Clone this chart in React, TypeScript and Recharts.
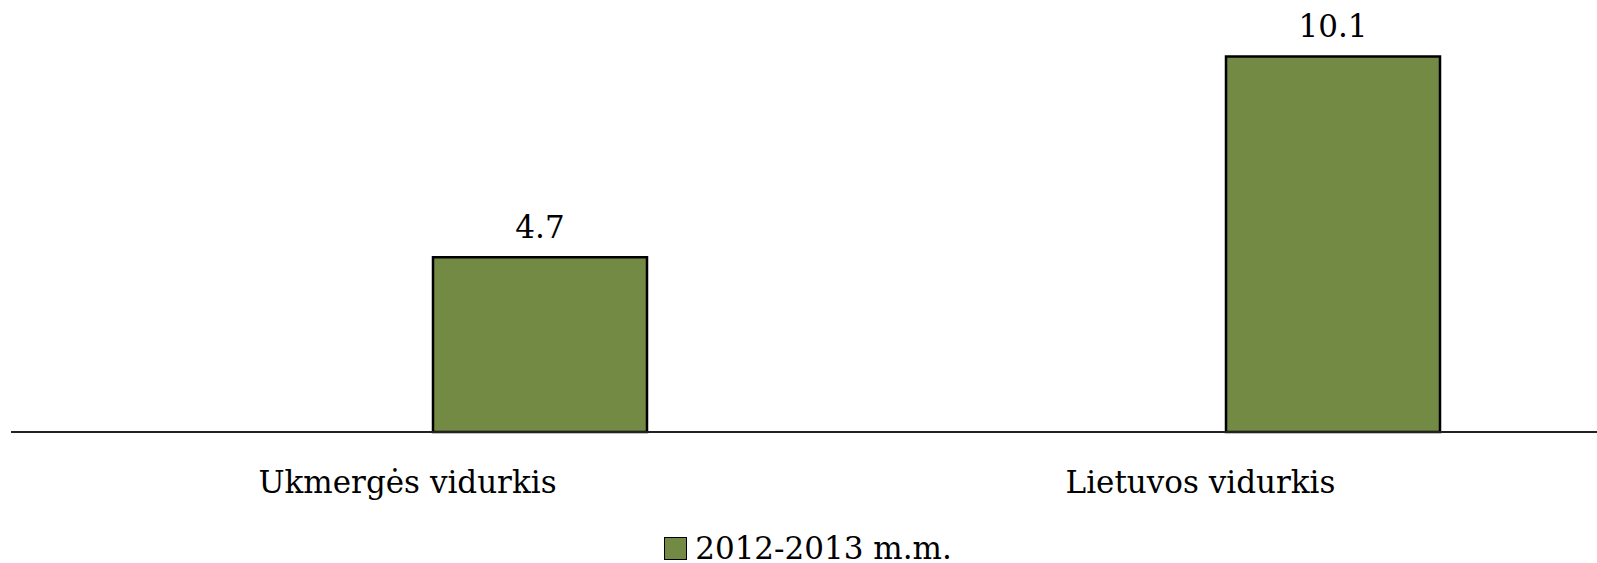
import React from 'react'
import { BarChart, Bar, XAxis, YAxis, Legend, LabelList } from 'recharts'

const kategorijos = ['Ukmergės vidurkis', 'Lietuvos vidurkis']
const reiksmes = [4.7, 10.1]
// tuscia serija, kuri tik pastumia stulpelius kaip originale
const tuscia: (number | null)[] = [null, null]
const serijosPavadinimas = '2012-2013 m.m.'

const data = kategorijos.map((k, i) => ({ vieta: k, tuscia: tuscia[i], reiksme: reiksmes[i] }))

const spalva = '#738A45'
const sriftas = '"DejaVu Serif", serif'

const LegendaTurinys = () => (
  <div style={{ height: 34, boxSizing: 'border-box', paddingTop: 4, display: 'flex', alignItems: 'center', justifyContent: 'center', fontFamily: sriftas, fontSize: 31, lineHeight: 1, color: '#000' }}>
    <span style={{ display: 'inline-block', width: 21, height: 21, background: spalva, border: '1.5px solid #000', marginRight: 8, marginLeft: 8 }} />
    <span>{serijosPavadinimas}</span>
  </div>
)

export default function App() {
  return (
    <div style={{ position: 'absolute', left: 0, top: 0, width: 1597, height: 563, background: '#fff' }}>
      <BarChart width={1597} height={563} data={data} margin={{ top: 23, right: 0, left: 11, bottom: 0 }} barGap={51}>
        <XAxis
          dataKey="vieta"
          height={97}
          tickLine={false}
          tickSize={0}
          tickMargin={39}
          axisLine={{ stroke: '#222', strokeWidth: 2 }}
          tick={{ fill: '#000', fontSize: 31, fontFamily: sriftas }}
        />
        <YAxis hide domain={[0, 11]} />
        <Legend verticalAlign="bottom" content={<LegendaTurinys />} />
        <Bar dataKey="tuscia" barSize={214} legendType="none" isAnimationActive={false} />
        <Bar dataKey="reiksme" name={serijosPavadinimas} barSize={214} fill={spalva} stroke="#000" strokeWidth={2.5} isAnimationActive={false}>
          <LabelList dataKey="reiksme" position="top" offset={19} fill="#000" fontSize={31} fontFamily={sriftas} />
        </Bar>
      </BarChart>
    </div>
  )
}
